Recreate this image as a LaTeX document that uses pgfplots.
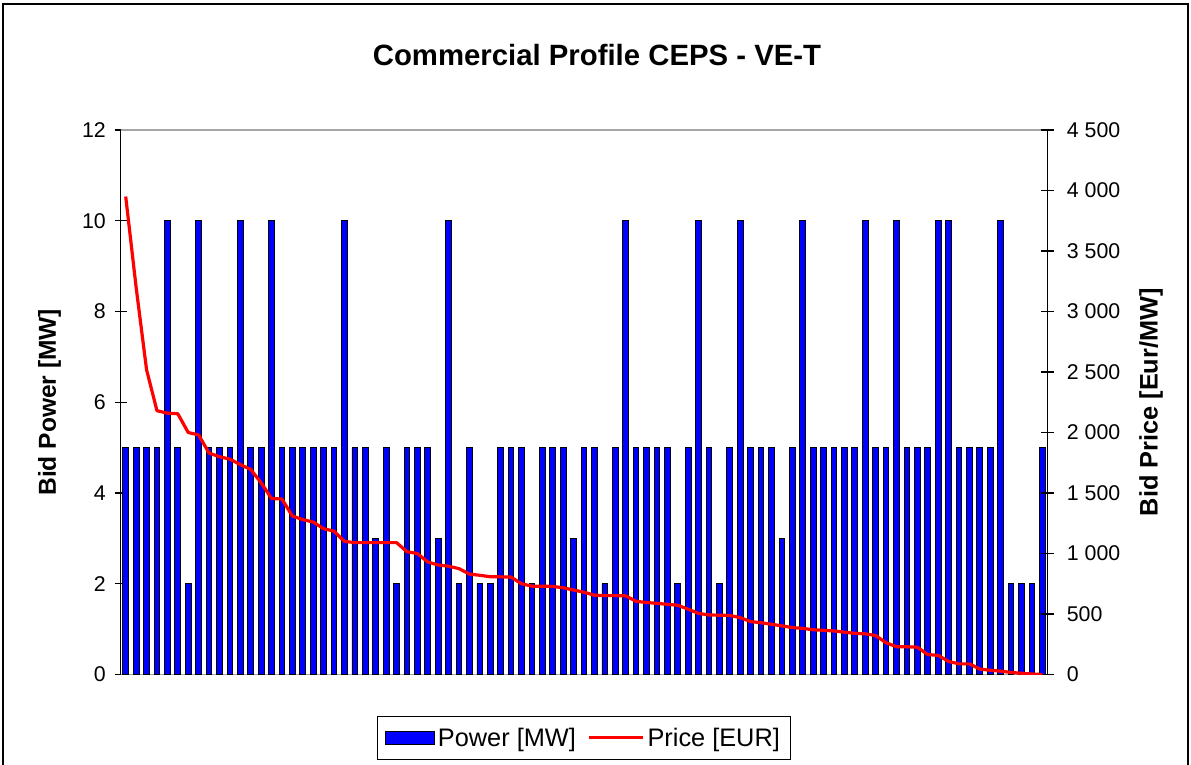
\documentclass[border=0pt]{standalone}
\usepackage{pgfplots}
\usepackage{pgfplotstable}
\pgfplotsset{compat=1.18}
\usepackage{fontspec}
\setmainfont{Liberation Sans}

\pgfplotstableread{
k power price
1 5 3950
2 5 3200
3 5 2520
4 5 2180
5 10 2160
6 5 2155
7 2 2000
8 10 1980
9 5 1830
10 5 1800
11 5 1780
12 10 1735
13 5 1695
14 5 1585
15 10 1455
16 5 1450
17 5 1310
18 5 1280
19 5 1260
20 5 1205
21 5 1185
22 10 1100
23 5 1090
24 5 1090
25 3 1090
26 5 1090
27 2 1090
28 5 1015
29 5 1000
30 5 930
31 3 905
32 10 895
33 2 875
34 5 830
35 2 820
36 2 808
37 5 807
38 5 805
39 5 750
40 2 730
41 5 730
42 5 728
43 5 717
44 3 698
45 5 680
46 5 655
47 2 652
48 5 652
49 10 650
50 5 605
51 5 595
52 5 588
53 5 580
54 2 572
55 5 540
56 10 505
57 5 492
58 2 490
59 5 488
60 10 470
61 5 437
62 5 428
63 5 415
64 3 402
65 5 388
66 10 381
67 5 370
68 5 365
69 5 360
70 5 350
71 5 340
72 10 336
73 5 322
74 5 262
75 10 230
76 5 229
77 5 226
78 5 165
79 10 158
80 10 108
81 5 88
82 5 88
83 5 45
84 5 35
85 10 28
86 2 17
87 2 10
88 2 4
89 5 0
}\datatable

\begin{document}
\begin{tikzpicture}
\path[use as bounding box] (0,0) rectangle (893.25pt,573pt);
\draw[line width=1.2pt] (2.25pt,-20pt) -- (2.25pt,570pt) -- (891pt,570pt) -- (891pt,-20pt);
\node[font=\fontsize{22}{26}\selectfont\bfseries, anchor=base] at (447.75pt,524pt) {Commercial Profile CEPS - VE-T};

\begin{axis}[
  at={(90.375pt,67.125pt)}, anchor=south west,
  width=695.25pt, height=408.375pt, scale only axis,
  xmin=0.5, xmax=89.5, ymin=0, ymax=12,
  enlargelimits=false,
  xtick=\empty,
  ytick={0,2,...,12}, ytick pos=left,
  tick align=center, major tick length=9pt,
  every tick/.style={black, line width=0.8pt},
  separate axis lines,
  x axis line style={gray!70, line width=0.8pt},
  y axis line style={black, line width=0.8pt},
  /pgf/number format/assume math mode=true,
  tick label style={font=\fontsize{16}{19}\selectfont},
  yticklabel style={xshift=-3pt},
  every axis y label/.style={at={(axis description cs:-0.0765,0.5)}, rotate=90, anchor=center,
     font=\fontsize{18.4}{22}\selectfont\bfseries},
  ylabel={Bid Power [MW]},
]
\addplot[ybar, bar width=0.55, fill=blue, draw=black, line width=0.7pt] table[x=k,y=power]{\datatable};
\end{axis}

\begin{axis}[
  at={(90.375pt,67.125pt)}, anchor=south west,
  width=695.25pt, height=408.375pt, scale only axis,
  xmin=0.5, xmax=89.5, ymin=0, ymax=4500,
  enlargelimits=false,
  hide x axis,
  axis y line*=right,
  ytick={0,500,...,4500},
  yticklabels={0,500,1 000,1 500,2 000,2 500,3 000,3 500,4 000,4 500},
  tick align=center, major tick length=10pt,
  every tick/.style={black, line width=0.8pt},
  y axis line style={black, line width=0.8pt},
  /pgf/number format/assume math mode=true,
  tick label style={font=\fontsize{16}{19}\selectfont},
  yticklabel style={xshift=6pt},
  every axis y label/.style={at={(axis description cs:1.1116,0.5)}, rotate=90, anchor=center,
     font=\fontsize{19}{22}\selectfont\bfseries},
  ylabel={Bid Price [Eur/MW]},
  legend columns=2,
  legend style={at={(0.5,-0.1166)}, anchor=center, draw=black, line width=0.8pt,
     inner xsep=6pt, inner ysep=6.5pt,
     font=\fontsize{19}{22}\selectfont, /tikz/every even column/.append style={column sep=7pt}},
]
\addlegendimage{legend image code/.code={\draw[fill=blue,draw=black,line width=0.6pt] (0pt,-4.9pt) rectangle (36.75pt,4.9pt);}}
\addlegendentry{Power [MW]}
\addplot[red, line width=2.4pt, line join=round,
  legend image code/.code={\draw[red,line width=2.25pt] (0pt,0pt) -- (40.5pt,0pt);}] table[x=k,y=price]{\datatable};
\addlegendentry{Price [EUR]}
\end{axis}
\end{tikzpicture}
\end{document}
